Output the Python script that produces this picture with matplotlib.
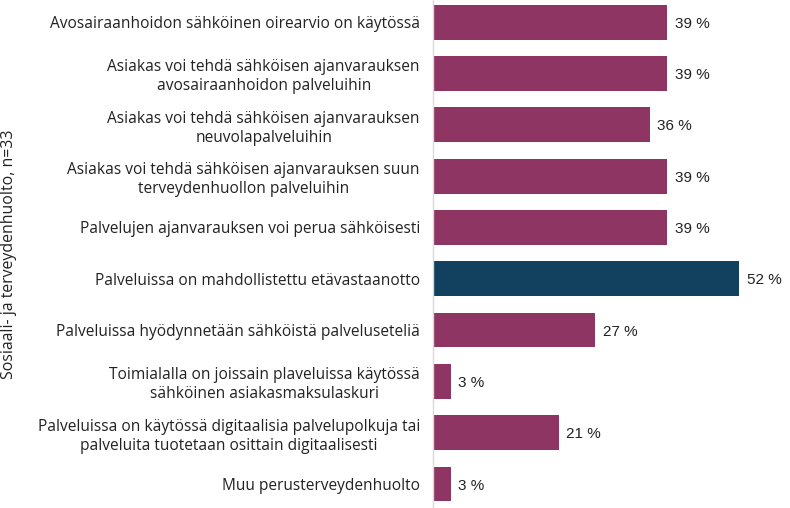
import numpy as np
import matplotlib.pyplot as plt

categories = [
    'Avosairaanhoidon sähköinen oirearvio on käytössä',
    'Asiakas voi tehdä sähköisen ajanvarauksen\navosairaanhoidon palveluihin',
    'Asiakas voi tehdä sähköisen ajanvarauksen\nneuvolapalveluihin',
    'Asiakas voi tehdä sähköisen ajanvarauksen suun\nterveydenhuollon palveluihin',
    'Palvelujen ajanvarauksen voi perua sähköisesti',
    'Palveluissa on mahdollistettu etävastaanotto',
    'Palveluissa hyödynnetään sähköistä palveluseteliä',
    'Toimialalla on joissain plaveluissa käytössä\nsähköinen asiakasmaksulaskuri',
    'Palveluissa on käytössä digitaalisia palvelupolkuja tai\npalveluita tuotetaan osittain digitaalisesti',
    'Muu perusterveydenhuolto',
]
values = [39.4, 39.4, 36.4, 39.4, 39.4, 51.5, 27.3, 3.0, 21.2, 3.0]
labels = ['39 %', '39 %', '36 %', '39 %', '39 %', '52 %', '27 %', '3 %', '21 %', '3 %']
highlight = 5

purple = '#8f3563'
navy = '#12405f'

fig = plt.figure(figsize=(7.9, 5.08), dpi=100)
# rows are 51.3 px apart, first row centre 22 px from the top
ax = fig.add_axes([433 / 790, -1.7 / 508, 1 - 433 / 790, 513.3 / 508])

y = np.arange(len(categories))
colors = [navy if i == highlight else purple for i in range(len(categories))]
ax.barh(y, values, height=0.68, color=colors)

for yi, v, lab in zip(y, values, labels):
    ax.text(v + 1.2, yi + 0.03, lab, va='center', ha='left', fontsize=11,
            family='Liberation Sans', color='#222222')

ax.set_xlim(0, 60)
ax.set_ylim(len(categories) - 0.5, -0.5)
ax.set_yticks(y)
ax.set_yticklabels(categories, fontsize=11.2, family='Open Sans', color='#222222',
                   multialignment='center', linespacing=1.25)
ax.tick_params(axis='y', length=0, pad=9.4)
ax.set_xticks([])
for s in ['top', 'right', 'bottom']:
    ax.spines[s].set_visible(False)
ax.spines['left'].set_color('#d9d9d9')
ax.spines['left'].set_linewidth(1)

fig.text(9 / 790, 1 - 254 / 508, 'Sosiaali- ja terveydenhuolto, n=33', rotation=90,
         va='center', ha='center', fontsize=11.4, family='Open Sans', color='#222222')

fig.savefig('out.png', dpi=100)
